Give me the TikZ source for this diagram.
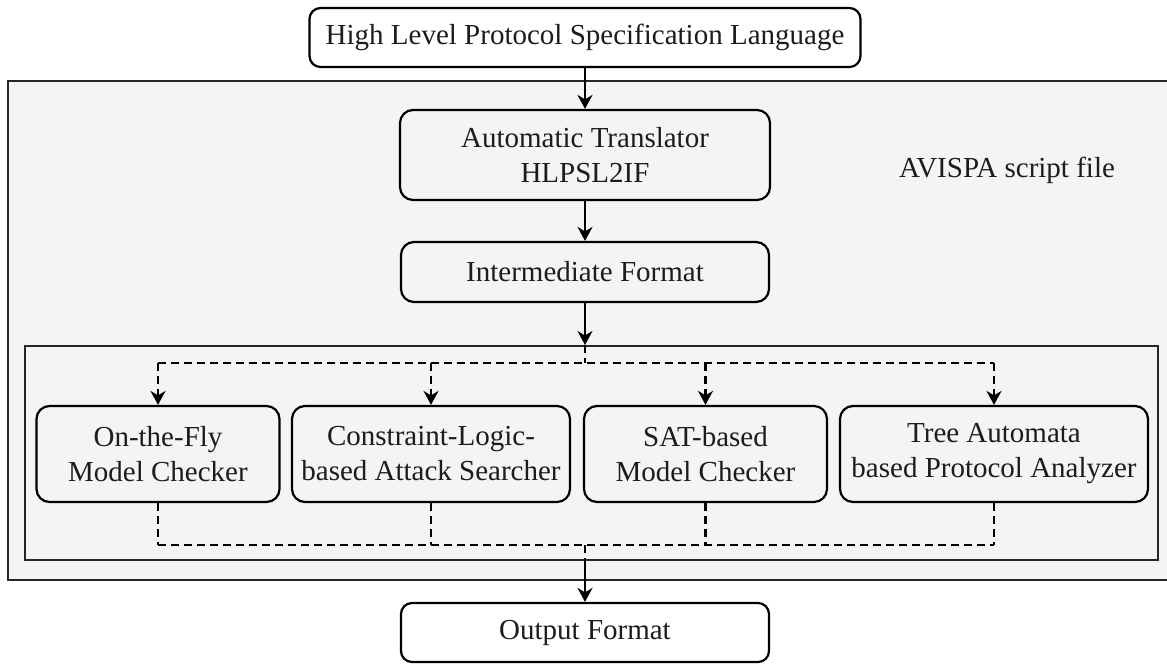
\documentclass[tikz,border=0pt]{standalone}
\usepackage{fontspec}
\setmainfont{Liberation Serif}
\usetikzlibrary{arrows.meta}
\definecolor{panel}{RGB}{243,244,246}
\definecolor{ink}{RGB}{30,27,28}
\begin{document}
\begin{tikzpicture}[x=1pt,y=-1pt,
  every node/.style={font=\rmfamily\fontsize{29}{35}\selectfont, text=ink},
  box/.style={draw=black, line width=2.2pt, rounded corners=13pt,
    align=center, inner sep=0pt, fill=panel},
  plainbox/.style={box, fill=white, rounded corners=11pt},
  frame/.style={draw=black!85, line width=2pt, fill=panel, inner sep=0pt},
  flow/.style={line width=2.2pt, -{Stealth[length=14pt,width=15pt,inset=4.5pt]}},
  dline/.style={line width=2.2pt, dash pattern=on 8pt off 5pt},
  darrow/.style={dline, -{Stealth[length=14pt,width=15pt,inset=4.5pt]}}
]
\useasboundingbox (0,0) rectangle (1167,664);
\fill[white] (0,0) rectangle (1167,664);
\clip (0,0) rectangle (1167,664);

% frames
\node[frame, minimum width=1167.3pt, minimum height=499.3pt] (outer) at (591.35,330.35) {};
\node[frame, minimum width=1133pt, minimum height=214pt] (inner) at (591.5,453) {};

% main column
\node[plainbox, minimum width=551pt, minimum height=59pt] (spec) at (585,37.5)
  {High Level Protocol Specification Language};
\node[box, minimum width=370pt, minimum height=90pt] (trans) at (585,155)
  {Automatic Translator\\HLPSL2IF};
\node[box, minimum width=368pt, minimum height=60pt] (inter) at (585,272)
  {Intermediate Format};
\node[plainbox, minimum width=368pt, minimum height=59pt] (out) at (585,632.5)
  {Output Format};

\node[anchor=base] (label) at (1007,177) {AVISPA script file};

% back-ends
\node[box, minimum width=243pt, minimum height=96pt] (b1) at (158,454)
  {On-the-Fly\\Model Checker};
\node[box, minimum width=278pt, minimum height=96pt] (b2) at (431,454)
  {Constraint-Logic-\\based Attack Searcher};
\node[box, minimum width=243pt, minimum height=96pt] (b3) at (705.5,454)
  {SAT-based\\Model Checker};
\node[box, minimum width=308pt, minimum height=96pt] (b4) at (994,454)
  {Tree Automata\\based Protocol Analyzer};

\coordinate (split) at (585,363);
\coordinate (join) at (585,545);

% solid flow
\draw[flow] (spec.south) -- (trans.north);
\draw[flow] (trans.south) -- (inter.north);
\draw[flow] (inter.south) -- (inter.south |- inner.north);

% fan-out
\draw[dline] (inter.south |- inner.north) -- (split);
\draw[dline] (b1.north |- split) -- (b4.north |- split);
\foreach \b in {b1,b2,b3,b4}
  \draw[darrow] (\b.north |- split) -- (\b.north);

% fan-in
\foreach \b in {b1,b2,b3,b4}
  \draw[dline] (\b.south) -- (\b.south |- join);
\draw[dline] (b1.south |- join) -- (b4.south |- join);
\draw[dline] (join) -- (join |- inner.south);

\draw[flow] (join |- inner.south) -- (out.north);
\end{tikzpicture}
\end{document}
